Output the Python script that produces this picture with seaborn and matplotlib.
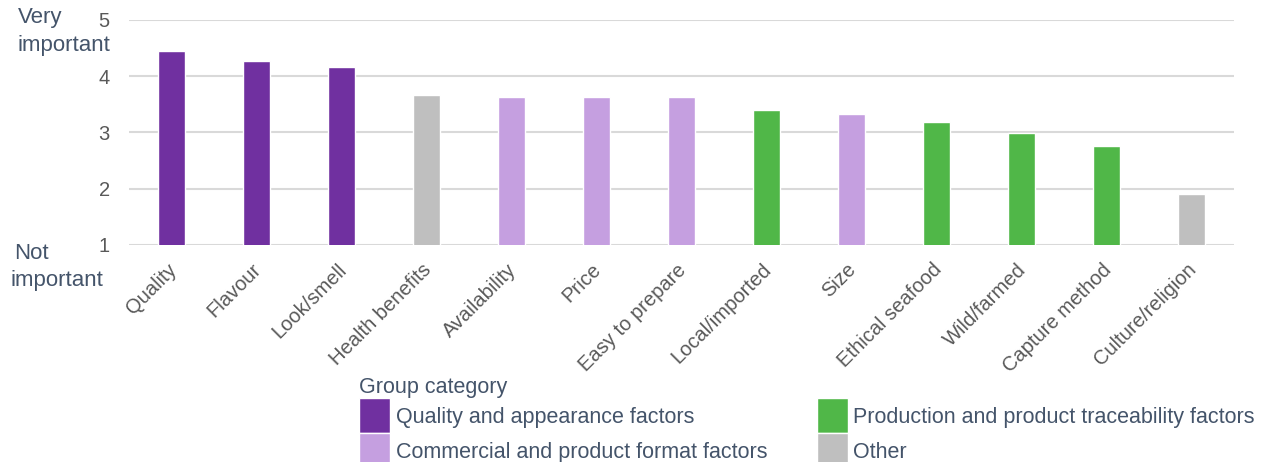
import matplotlib
matplotlib.use("Agg")
import matplotlib.pyplot as plt
import matplotlib.transforms as mtrans
import seaborn as sns
import pandas as pd

factors = ["Quality", "Flavour", "Look/smell", "Health benefits", "Availability", "Price",
           "Easy to prepare", "Local/imported", "Size", "Ethical seafood", "Wild/farmed",
           "Capture method", "Culture/religion"]
scores = [4.45, 4.27, 4.17, 3.67, 3.63, 3.63, 3.62, 3.40, 3.33, 3.19, 2.99, 2.76, 1.91]
groups = ["Quality and appearance factors"] * 3 + ["Other"] + \
         ["Commercial and product format factors"] * 3 + \
         ["Production and product traceability factors"] + \
         ["Commercial and product format factors"] + \
         ["Production and product traceability factors"] * 3 + ["Other"]
legend_order = ["Quality and appearance factors", "Commercial and product format factors",
                "Production and product traceability factors", "Other"]
palette = {
    "Quality and appearance factors": "#7030A0",
    "Commercial and product format factors": "#C59FE0",
    "Production and product traceability factors": "#50B748",
    "Other": "#BFBFBF",
}
yticks = [1, 2, 3, 4, 5]

df = pd.DataFrame({"factor": factors, "score": scores, "group": groups})

sns.set_theme(style="white")
plt.rcParams["font.family"] = ["Liberation Sans", "DejaVu Sans"]

fig = plt.figure(figsize=(12.67, 4.62), dpi=100)
ax = fig.add_axes([0.102, 0.470, 0.872, 0.487])

sns.barplot(data=df, x="factor", y="score", hue="group", hue_order=legend_order,
            palette=palette, dodge=False, width=0.32, ax=ax, legend=True,
            saturation=1)

ax.set_ylim(1, 5)
ax.set_yticks(yticks)
ax.set_xlim(-0.5, len(factors) - 0.5)
ax.yaxis.grid(True, color="#D9D9D9", linewidth=1.5)
ax.set_axisbelow(True)
for s in ax.spines.values():
    s.set_visible(False)
ax.tick_params(axis="both", length=0, colors="#595959", labelsize=14.5)
ax.tick_params(axis="y", pad=14)
ax.tick_params(axis="x", pad=11)
ax.set_xlabel("")
ax.set_ylabel("")
shift = mtrans.ScaledTranslation(-5 / 100, 0, fig.dpi_scale_trans)
for lbl in ax.get_xticklabels():
    lbl.set_rotation(45)
    lbl.set_ha("right")
    lbl.set_rotation_mode("anchor")
    lbl.set_transform(lbl.get_transform() + shift)

side_color = "#44546A"
fig.text(0.014, 0.985, "Very", ha="left", va="top", fontsize=16, color=side_color)
fig.text(0.014, 0.925, "important", ha="left", va="top", fontsize=16, color=side_color)
fig.text(0.011, 0.475, "Not", ha="left", va="top", fontsize=16, color=side_color)
fig.text(0.008, 0.415, "important", ha="left", va="top", fontsize=16, color=side_color)

handles, labels = ax.get_legend_handles_labels()
ax.get_legend().remove()
hmap = dict(zip(labels, handles))
leg = fig.legend([hmap[l] for l in legend_order], legend_order, ncol=2,
                 loc="upper left", bbox_to_anchor=(0.275, 0.207),
                 frameon=False, title="Group category", title_fontsize=15.5,
                 fontsize=15.5, handlelength=1.45, handleheight=2.15,
                 handletextpad=0.25, labelspacing=0.0, columnspacing=2.3,
                 alignment="left", borderpad=0)
leg.get_title().set_color(side_color)
for t in leg.get_texts():
    t.set_color(side_color)

fig.savefig("out.png", dpi=100)
